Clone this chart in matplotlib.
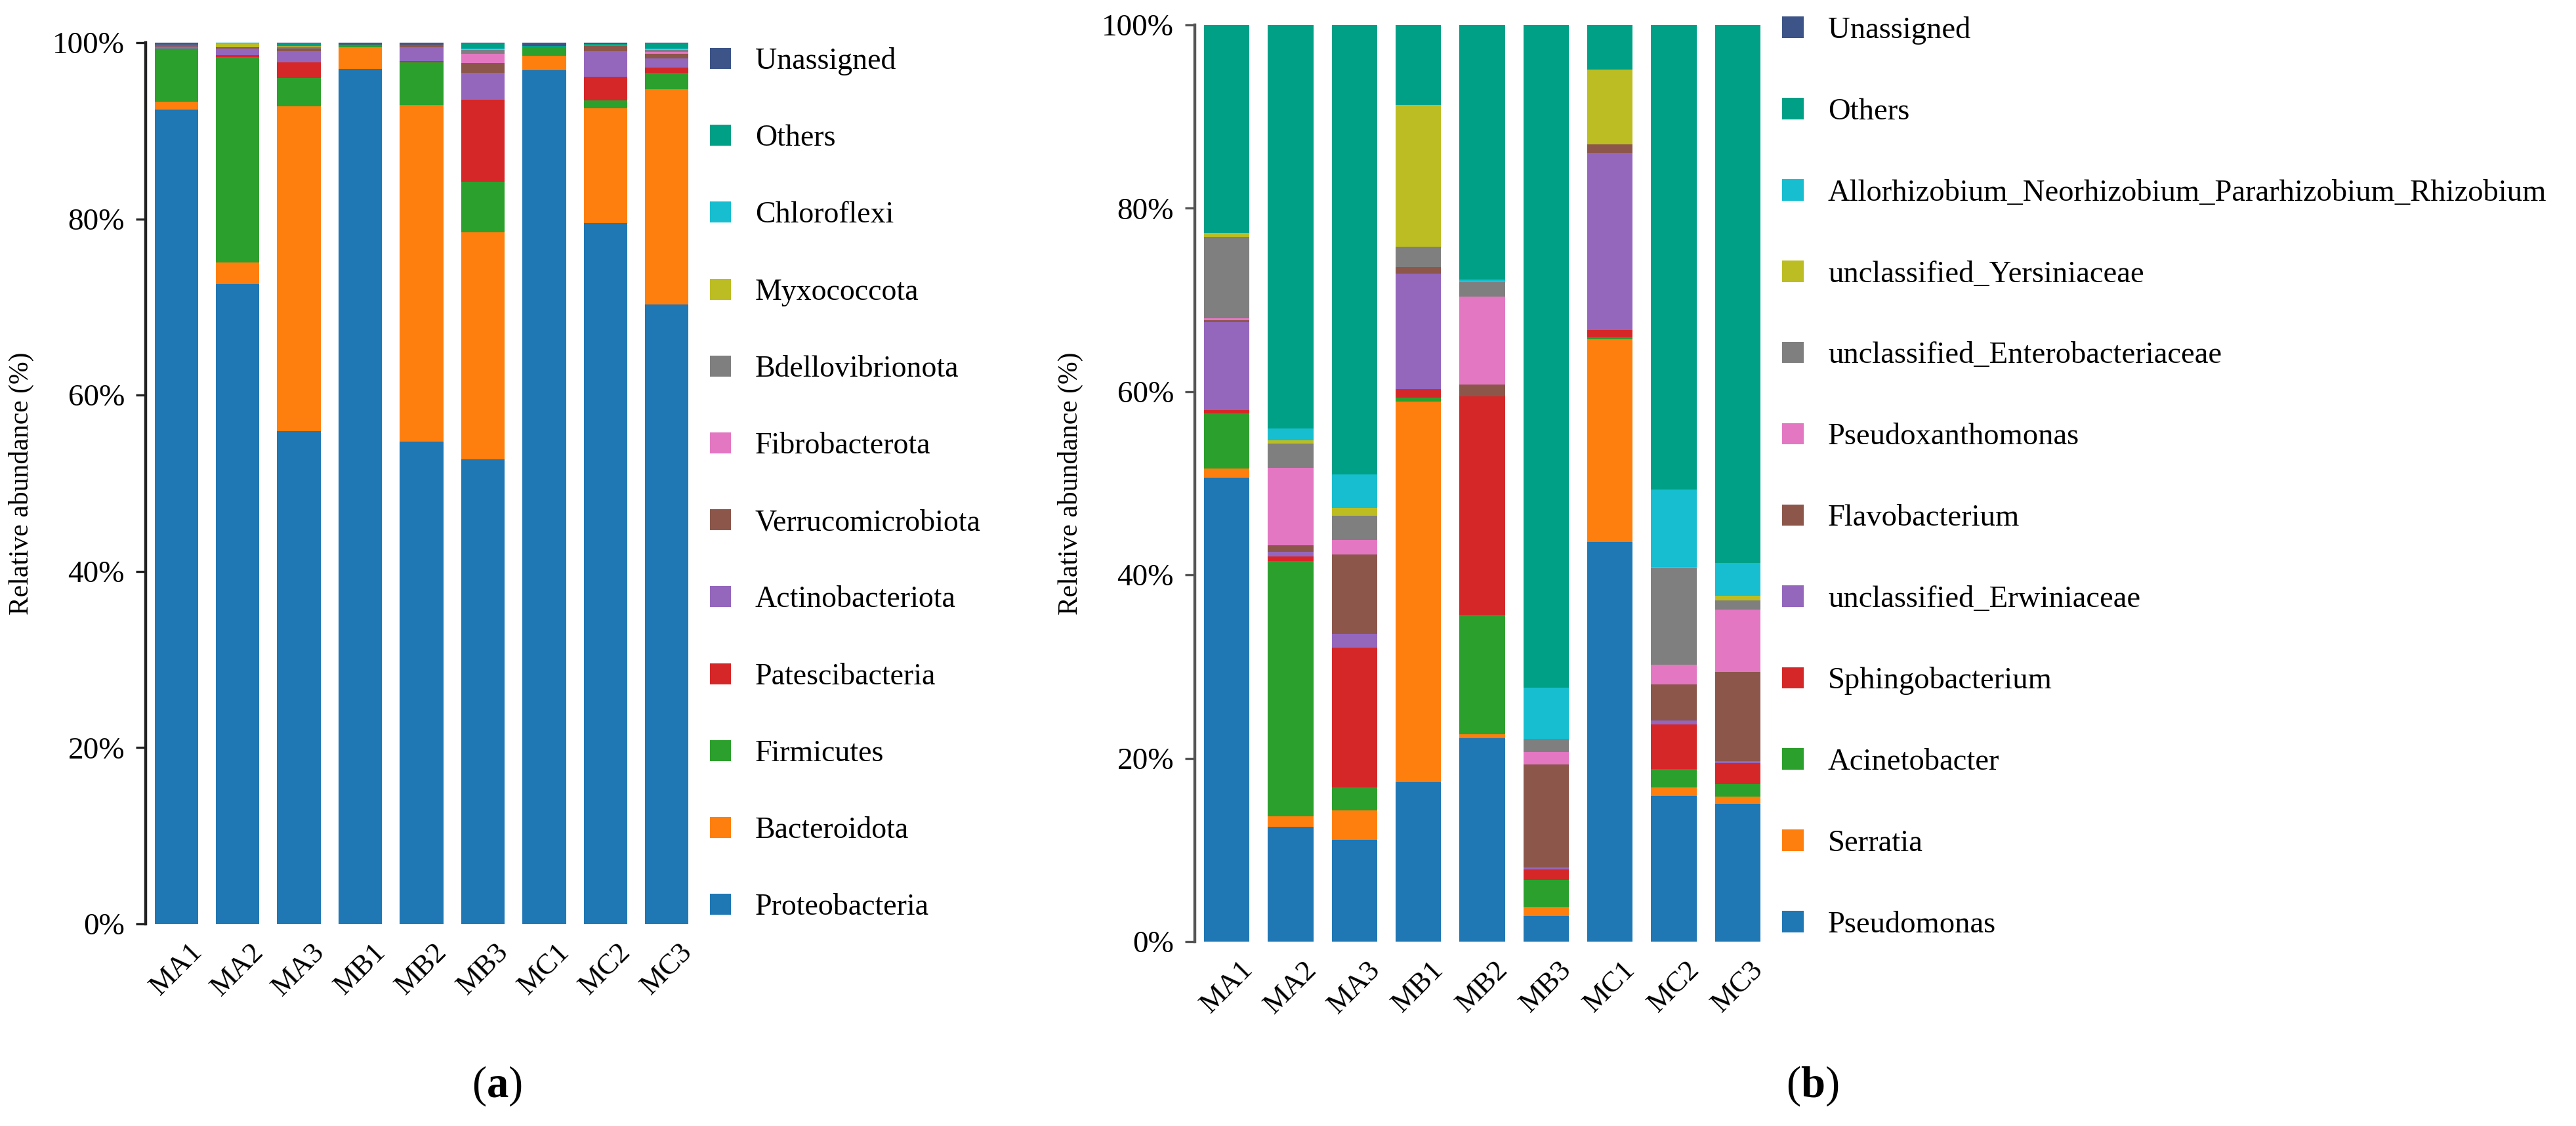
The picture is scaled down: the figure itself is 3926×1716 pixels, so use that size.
import numpy as np
import matplotlib.pyplot as plt
from matplotlib.patches import Patch
from matplotlib.ticker import PercentFormatter

plt.rcParams['font.family'] = ['Liberation Serif', 'DejaVu Serif']
plt.rcParams['mathtext.fontset'] = 'custom'
plt.rcParams['mathtext.rm'] = 'Liberation Serif'
plt.rcParams['mathtext.bf'] = 'Liberation Serif:bold'

samples = ['MA1', 'MA2', 'MA3', 'MB1', 'MB2', 'MB3', 'MC1', 'MC2', 'MC3']

# (a) phylum level, relative abundance (%), stacked bottom -> top
phyla = ['Proteobacteria', 'Bacteroidota', 'Firmicutes', 'Patescibacteria',
         'Actinobacteriota', 'Verrucomicrobiota', 'Fibrobacterota',
         'Bdellovibrionota', 'Myxococcota', 'Chloroflexi', 'Others', 'Unassigned']
proteobacteria = [92.4, 72.6, 55.9, 97.0, 54.7, 52.75, 96.9, 79.5, 70.3]
bacteroidota = [0.9, 2.45, 36.9, 2.45, 38.2, 25.75, 1.6, 13.05, 24.4]
firmicutes = [6.0, 23.3, 3.2, 0.3, 4.9, 5.7, 0.95, 0.9, 1.85]
patescibacteria = [0.05, 0.2, 1.8, 0, 0.1, 9.3, 0, 2.7, 0.65]
actinobacteriota = [0.2, 0.75, 1.2, 0, 1.55, 3.1, 0, 2.85, 1.05]
verrucomicrobiota = [0.15, 0.2, 0.3, 0, 0.3, 1.1, 0.05, 0.6, 0.45]
fibrobacterota = [0, 0, 0.05, 0, 0, 1.0, 0, 0, 0.25]
bdellovibrionota = [0.05, 0, 0.2, 0, 0, 0.5, 0, 0.1, 0.25]
myxococcota = [0, 0.45, 0.05, 0, 0, 0.05, 0, 0, 0.05]
chloroflexi = [0, 0, 0.05, 0, 0, 0.05, 0, 0, 0.05]
others_a = [0, 0.05, 0.3, 0, 0, 0.65, 0.1, 0.15, 0.65]
unassigned_a = [0.25, 0, 0.05, 0.25, 0.25, 0.05, 0.4, 0.15, 0.05]

# (b) genus level
genera = ['Pseudomonas', 'Serratia', 'Acinetobacter', 'Sphingobacterium',
          'unclassified_Erwiniaceae', 'Flavobacterium', 'Pseudoxanthomonas',
          'unclassified_Enterobacteriaceae', 'unclassified_Yersiniaceae',
          'Allorhizobium_Neorhizobium_Pararhizobium_Rhizobium', 'Others', 'Unassigned']
pseudomonas = [50.6, 12.5, 11.1, 17.4, 22.2, 2.8, 43.6, 15.9, 15.0]
serratia = [1.0, 1.2, 3.2, 41.5, 0.45, 1.0, 22.1, 0.9, 0.8]
acinetobacter = [6.0, 27.8, 2.5, 0.45, 13.0, 2.95, 0.2, 2.0, 1.4]
sphingobacterium = [0.4, 0.55, 15.3, 0.95, 23.85, 1.1, 0.8, 4.9, 2.3]
erwiniaceae = [9.6, 0.45, 1.5, 12.6, 0, 0.25, 19.35, 0.4, 0.2]
flavobacterium = [0.2, 0.7, 8.6, 0.7, 1.3, 11.2, 0.95, 3.95, 9.7]
pseudoxanthomonas = [0.2, 8.5, 1.6, 0, 9.6, 1.4, 0, 2.15, 6.8]
enterobacteriaceae = [8.85, 2.6, 2.65, 2.2, 1.6, 1.4, 0, 10.6, 1.0]
yersiniaceae = [0.45, 0.4, 0.85, 15.5, 0.05, 0, 8.1, 0.05, 0.5]
allorhizobium = [0, 1.3, 3.7, 0, 0.15, 5.6, 0, 8.45, 3.6]
others_b = [22.7, 44.0, 49.0, 8.7, 27.8, 72.3, 4.9, 50.7, 58.7]
unassigned_b = [0, 0, 0, 0, 0, 0, 0, 0, 0]

COLORS = ['#1f77b4', '#ff7f0e', '#2ca02c', '#d62728', '#9467bd', '#8c564b',
          '#e377c2', '#7f7f7f', '#bcbd22', '#17becf', '#00a087', '#3c5488']

data_a = [proteobacteria, bacteroidota, firmicutes, patescibacteria, actinobacteriota,
          verrucomicrobiota, fibrobacterota, bdellovibrionota, myxococcota,
          chloroflexi, others_a, unassigned_a]
data_b = [pseudomonas, serratia, acinetobacter, sphingobacterium, erwiniaceae,
          flavobacterium, pseudoxanthomonas, enterobacteriaceae, yersiniaceae,
          allorhizobium, others_b, unassigned_b]

W, H = 3926, 1716
fig = plt.figure(figsize=(W / 200, H / 200), dpi=200)


def stacked_panel(rect, names, series, legend_xy, spine_color, leg_fs, leg_space):
    ax = fig.add_axes(rect)
    x = np.arange(len(samples))
    bottom = np.zeros(len(samples))
    handles = []
    for name, vals, col in zip(names, series, COLORS):
        vals = np.array(vals, dtype=float)
        ax.bar(x, vals, bottom=bottom, width=0.71, color=col, linewidth=0)
        bottom += vals
        handles.append(Patch(facecolor=col, label=name))

    ax.set_xlim(-0.5, len(samples) - 0.5)
    ax.set_ylim(0, 100)
    ax.set_yticks([0, 20, 40, 60, 80, 100])
    ax.yaxis.set_major_formatter(PercentFormatter(decimals=0))
    ax.set_xticks(x)
    ax.set_xticklabels(samples, rotation=45, ha='center', fontsize=16)
    ax.tick_params(axis='x', length=0, pad=8)
    ax.tick_params(axis='y', length=5.5, width=1.2, pad=6, labelsize=17,
                   color=spine_color)
    for s in ['top', 'right', 'bottom']:
        ax.spines[s].set_visible(False)
    ax.spines['left'].set_linewidth(1.6)
    ax.spines['left'].set_color(spine_color)
    ax.set_ylabel('Relative abundance (%)', fontsize=15, labelpad=10)

    ax.legend(handles=handles[::-1], loc='upper left',
              bbox_to_anchor=legend_xy, bbox_transform=fig.transFigure,
              frameon=False, fontsize=leg_fs, handlelength=0.7, handleheight=0.7,
              handletextpad=0.8, labelspacing=leg_space, borderpad=0, borderaxespad=0)
    return ax


ax_a = stacked_panel([222 / W, 1 - 1408 / H, 841 / W, 1343 / H], phyla, data_a,
                     (1082 / W, 1 - 72 / H), '#222222', 16.5, 1.63)
ax_b = stacked_panel([1821 / W, 1 - 1435 / H, 876 / W, 1397 / H], genera, data_b,
                     (2716 / W, 1 - 25 / H), '#555555', 16.8, 1.74)

fig.text(757 / W, 1 - 1655 / H, r'($\mathbf{a}$)', ha='center', va='center',
         fontsize=24)
fig.text(2762 / W, 1 - 1655 / H, r'($\mathbf{b}$)', ha='center', va='center',
         fontsize=24)

fig.savefig('out.png', dpi=200, facecolor='white')
